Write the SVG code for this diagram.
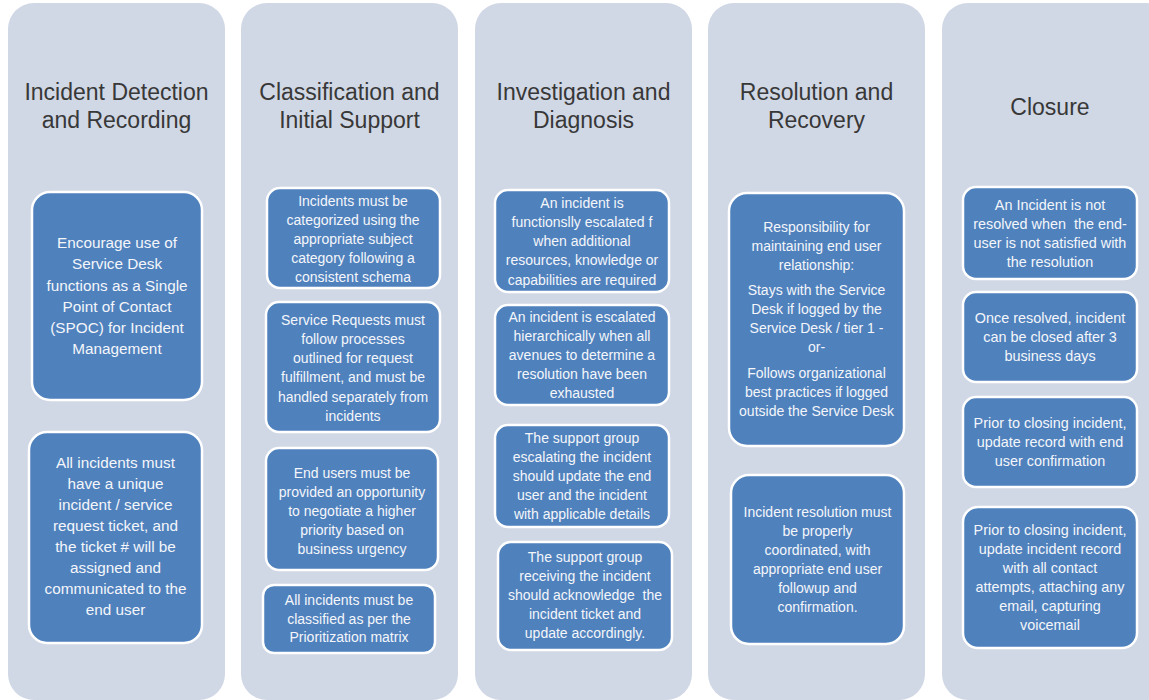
<svg xmlns="http://www.w3.org/2000/svg" width="1149" height="700" viewBox="0 0 1149 700">
  <style>
    .col { fill: #D0D7E5; }
    .box { fill: #4F81BD; stroke: #FFFFFF; stroke-width: 2.5; }
    .title { font-family: "Liberation Sans", Arial, sans-serif; font-size: 23px; fill: #383838; text-anchor: middle; }
    .txt { font-family: "Liberation Sans", Arial, sans-serif; font-size: 14px; fill: #F4F6FA; text-anchor: middle; white-space: pre; }
    .big { font-size: 15.3px; }
    .mid { font-size: 14.4px; }
  </style>

  <rect width="1149" height="700" fill="#FFFFFF"/>

  <!-- Stage 1 -->
  <g id="stage-detection">
    <rect class="col" x="8" y="3" width="217" height="697" rx="26"/>
    <text class="title" x="116.5" y="100">Incident Detection</text>
    <text class="title" x="116.5" y="128">and Recording</text>
  </g>
  <g id="det-spoc">
    <rect class="box" x="32" y="192" width="170" height="208" rx="18"/>
    <text class="txt big" x="117" y="248">Encourage use of</text>
    <text class="txt big" x="117" y="269">Service Desk</text>
    <text class="txt big" x="117" y="291">functions as a Single</text>
    <text class="txt big" x="117" y="312">Point of Contact</text>
    <text class="txt big" x="117" y="333">(SPOC) for Incident</text>
    <text class="txt big" x="117" y="354">Management</text>
  </g>
  <g id="det-ticket">
    <rect class="box" x="29" y="432" width="173" height="211" rx="18"/>
    <text class="txt big" x="115.5" y="468">All incidents must</text>
    <text class="txt big" x="115.5" y="489">have a unique</text>
    <text class="txt big" x="115.5" y="510">incident / service</text>
    <text class="txt big" x="115.5" y="531">request ticket, and</text>
    <text class="txt big" x="115.5" y="552">the ticket # will be</text>
    <text class="txt big" x="115.5" y="573">assigned and</text>
    <text class="txt big" x="115.5" y="594">communicated to the</text>
    <text class="txt big" x="115.5" y="615">end user</text>
  </g>

  <!-- Stage 2 -->
  <g id="stage-classification">
    <rect class="col" x="241" y="3" width="217" height="697" rx="26"/>
    <text class="title" x="349.5" y="100">Classification and</text>
    <text class="title" x="349.5" y="128">Initial Support</text>
  </g>
  <g id="cls-category">
    <rect class="box" x="267" y="188" width="173" height="100" rx="13"/>
    <text class="txt" x="353" y="206">Incidents must be</text>
    <text class="txt" x="353" y="225">categorized using the</text>
    <text class="txt" x="353" y="244">appropriate subject</text>
    <text class="txt" x="353" y="263">category following a</text>
    <text class="txt" x="353" y="282">consistent schema</text>
  </g>
  <g id="cls-requests">
    <rect class="box" x="266" y="302" width="174" height="130" rx="13"/>
    <text class="txt" x="353" y="325">Service Requests must</text>
    <text class="txt" x="353" y="344">follow processes</text>
    <text class="txt" x="353" y="363">outlined for request</text>
    <text class="txt" x="353" y="382">fulfillment, and must be</text>
    <text class="txt" x="353" y="402">handled separately from</text>
    <text class="txt" x="353" y="421">incidents</text>
  </g>
  <g id="cls-priority">
    <rect class="box" x="266" y="448" width="172" height="122" rx="13"/>
    <text class="txt" x="352" y="478">End users must be</text>
    <text class="txt" x="352" y="497">provided an opportunity</text>
    <text class="txt" x="352" y="516">to negotiate a higher</text>
    <text class="txt" x="352" y="535">priority based on</text>
    <text class="txt" x="352" y="554">business urgency</text>
  </g>
  <g id="cls-matrix">
    <rect class="box" x="263" y="585" width="172" height="68" rx="11"/>
    <text class="txt" x="349" y="605">All incidents must be</text>
    <text class="txt" x="349" y="624">classified as per the</text>
    <text class="txt" x="349" y="642">Prioritization matrix</text>
  </g>

  <!-- Stage 3 -->
  <g id="stage-investigation">
    <rect class="col" x="475" y="3" width="217" height="697" rx="26"/>
    <text class="title" x="583.5" y="100">Investigation and</text>
    <text class="title" x="583.5" y="128">Diagnosis</text>
  </g>
  <g id="inv-functional">
    <rect class="box" x="495" y="190" width="174" height="102" rx="13"/>
    <text class="txt" x="582" y="208">An incident is</text>
    <text class="txt" x="582" y="227">functionslly escalated f</text>
    <text class="txt" x="582" y="246">when additional</text>
    <text class="txt" x="582" y="265">resources, knowledge or</text>
    <text class="txt" x="582" y="285">capabilities are required</text>
  </g>
  <g id="inv-hierarchical">
    <rect class="box" x="495" y="305" width="174" height="100" rx="13"/>
    <text class="txt" x="582" y="322">An incident is escalated</text>
    <text class="txt" x="582" y="341">hierarchically when all</text>
    <text class="txt" x="582" y="360">avenues to determine a</text>
    <text class="txt" x="582" y="379">resolution have been</text>
    <text class="txt" x="582" y="398">exhausted</text>
  </g>
  <g id="inv-escalating">
    <rect class="box" x="495" y="425" width="174" height="102" rx="13"/>
    <text class="txt" x="582" y="443">The support group</text>
    <text class="txt" x="582" y="462">escalating the incident</text>
    <text class="txt" x="582" y="481">should update the end</text>
    <text class="txt" x="582" y="500">user and the incident</text>
    <text class="txt" x="582" y="519">with applicable details</text>
  </g>
  <g id="inv-receiving">
    <rect class="box" x="498" y="542" width="174" height="108" rx="13"/>
    <text class="txt" x="585" y="562">The support group</text>
    <text class="txt" x="585" y="581">receiving the incident</text>
    <text class="txt" x="585" y="600">should acknowledge  the</text>
    <text class="txt" x="585" y="619">incident ticket and</text>
    <text class="txt" x="585" y="638">update accordingly.</text>
  </g>

  <!-- Stage 4 -->
  <g id="stage-resolution">
    <rect class="col" x="708" y="3" width="217" height="697" rx="26"/>
    <text class="title" x="816.5" y="100">Resolution and</text>
    <text class="title" x="816.5" y="128">Recovery</text>
  </g>
  <g id="res-relationship">
    <rect class="box" x="729" y="193" width="175" height="253" rx="18"/>
    <text class="txt" x="816.5" y="232">Responsibility for</text>
    <text class="txt" x="816.5" y="251">maintaining end user</text>
    <text class="txt" x="816.5" y="270">relationship:</text>
    <text class="txt" x="816.5" y="295">Stays with the Service</text>
    <text class="txt" x="816.5" y="314">Desk if logged by the</text>
    <text class="txt" x="816.5" y="333">Service Desk / tier 1 -</text>
    <text class="txt" x="816.5" y="352">or-</text>
    <text class="txt" x="816.5" y="378">Follows organizational</text>
    <text class="txt" x="816.5" y="397">best practices if logged</text>
    <text class="txt" x="816.5" y="416">outside the Service Desk</text>
  </g>
  <g id="res-coordination">
    <rect class="box" x="731" y="475" width="173" height="169" rx="18"/>
    <text class="txt" x="817.5" y="517">Incident resolution must</text>
    <text class="txt" x="817.5" y="536">be properly</text>
    <text class="txt" x="817.5" y="555">coordinated, with</text>
    <text class="txt" x="817.5" y="574">appropriate end user</text>
    <text class="txt" x="817.5" y="593">followup and</text>
    <text class="txt" x="817.5" y="612">confirmation.</text>
  </g>

  <!-- Stage 5 -->
  <g id="stage-closure">
    <rect class="col" x="942" y="3" width="230" height="697" rx="26"/>
    <text class="title" x="1050" y="115">Closure</text>
  </g>
  <g id="clo-satisfaction">
    <rect class="box" x="963" y="187" width="174" height="92" rx="13"/>
    <text class="txt mid" x="1050" y="210">An Incident is not</text>
    <text class="txt mid" x="1050" y="229">resolved when  the end-</text>
    <text class="txt mid" x="1050" y="248">user is not satisfied with</text>
    <text class="txt mid" x="1050" y="267">the resolution</text>
  </g>
  <g id="clo-wait">
    <rect class="box" x="963" y="292" width="174" height="90" rx="13"/>
    <text class="txt mid" x="1050" y="323">Once resolved, incident</text>
    <text class="txt mid" x="1050" y="342">can be closed after 3</text>
    <text class="txt mid" x="1050" y="361">business days</text>
  </g>
  <g id="clo-confirm">
    <rect class="box" x="963" y="397" width="174" height="90" rx="13"/>
    <text class="txt mid" x="1050" y="428">Prior to closing incident,</text>
    <text class="txt mid" x="1050" y="447">update record with end</text>
    <text class="txt mid" x="1050" y="466">user confirmation</text>
  </g>
  <g id="clo-contacts">
    <rect class="box" x="963" y="507" width="174" height="141" rx="15"/>
    <text class="txt mid" x="1050" y="535">Prior to closing incident,</text>
    <text class="txt mid" x="1050" y="554">update incident record</text>
    <text class="txt mid" x="1050" y="573">with all contact</text>
    <text class="txt mid" x="1050" y="592">attempts, attaching any</text>
    <text class="txt mid" x="1050" y="611">email, capturing</text>
    <text class="txt mid" x="1050" y="630">voicemail</text>
  </g>
</svg>
